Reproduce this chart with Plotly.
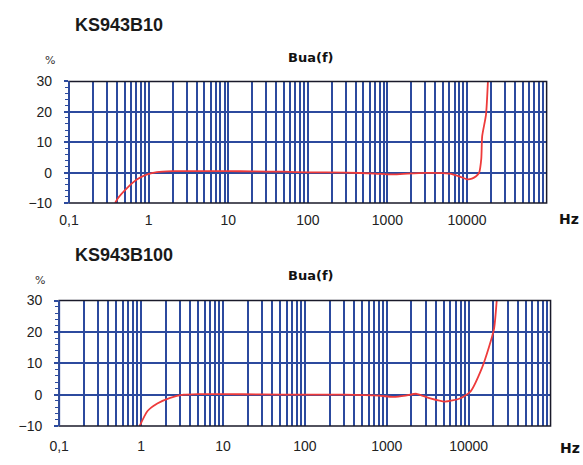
import plotly.graph_objects as go

# ---- data ----
top_freq = [0.38, 0.41, 0.54, 0.72, 0.96, 1.27, 2, 3, 5, 10, 20, 50, 100, 300, 700, 1100, 1600, 3000, 6000, 8000, 10000, 11500, 13000, 14200, 15100, 15500, 17300, 18300]
top_val = [-10, -8.5, -5, -2.2, -0.6, 0.2, 0.5, 0.5, 0.5, 0.5, 0.4, 0.3, 0.1, 0.0, -0.3, -0.6, -0.4, -0.1, -0.3, -1.2, -2.2, -2.0, -1.2, 0.0, 4.5, 12, 19, 30]

bot_freq = [0.96, 1.2, 1.58, 2.27, 3.3, 5, 10, 30, 100, 300, 800, 1200, 1700, 2300, 3400, 5100, 7800, 10500, 14500, 17600, 20400, 22000]
bot_val = [-10, -5.2, -2.8, -1.0, 0.0, 0.2, 0.2, 0.1, 0.0, 0.0, -0.3, -0.7, -0.3, 0.3, -1.2, -2.2, -1.2, 1.0, 8.5, 15, 21, 30]

decades = [0.1, 1, 10, 100, 1000, 10000]
decade_labels = ["0,1", "1", "10", "100", "1000", "10000"]
y_ticks = [-10, 0, 10, 20, 30]

chart_titles = ["KS943B10", "KS943B100"]
sub_title = "Bua(f)"

# ---- build tick values (major + minor log grid) ----
xvals, xtext = [], []
for d, lab in zip(decades, decade_labels):
    for m in range(1, 10):
        xvals.append(m * d)
        xtext.append(lab if m == 1 else "")
xvals.append(100000)
xtext.append("")

GRID = "#2c4a9e"
RED = "#ee3b3b"
W, H = 583, 465

fig = go.Figure()
fig.add_trace(go.Scatter(x=top_freq, y=top_val, mode="lines", line=dict(color=RED, width=1.8, shape="spline", smoothing=0.6),
                         xaxis="x", yaxis="y", showlegend=False, hoverinfo="skip"))
fig.add_trace(go.Scatter(x=bot_freq, y=bot_val, mode="lines", line=dict(color=RED, width=1.8, shape="spline", smoothing=0.6),
                         xaxis="x2", yaxis="y2", showlegend=False, hoverinfo="skip"))

def px(x):
    return x / W

def py(y):
    return 1 - y / H

top_dom_x = [px(60), px(546)]
top_dom_y = [py(202), py(76)]
bot_dom_x = [px(50), px(550)]
bot_dom_y = [py(433), py(303)]

tickfont = dict(family="Liberation Sans, Arial, sans-serif", size=14, color="#222222")

def xaxis(dom, anchor, standoff):
    return dict(domain=dom, anchor=anchor, type="log", range=[-1, 5],
                tickmode="array", tickvals=xvals, ticktext=xtext,
                showgrid=True, gridcolor=GRID, gridwidth=2,
                showline=False, zeroline=False, ticks="", tickfont=tickfont,
                ticklabelstandoff=standoff, fixedrange=True)

def yaxis(dom, anchor):
    return dict(domain=dom, anchor=anchor, range=[-10, 30],
                tickmode="array", tickvals=y_ticks,
                showgrid=True, gridcolor=GRID, gridwidth=2,
                zeroline=False, showline=False,
                ticks="outside", ticklen=4, tickcolor=GRID, tickwidth=1.5,
                minor=dict(dtick=2, ticks="outside", ticklen=3, tickcolor=GRID, tickwidth=1.2, showgrid=False),
                tickfont=tickfont, ticklabelstandoff=9, fixedrange=True)

fig.update_layout(
    width=W, height=H, margin=dict(l=0, r=0, t=0, b=0),
    paper_bgcolor="white", plot_bgcolor="white",
    xaxis=xaxis(top_dom_x, "y", 7), yaxis=yaxis(top_dom_y, "x"),
    xaxis2=xaxis(bot_dom_x, "y2", 10), yaxis2=yaxis(bot_dom_y, "x2"),
)

shapes = []
for xr, yr in (("x domain", "y domain"), ("x2 domain", "y2 domain")):
    shapes.append(dict(type="rect", xref=xr, yref=yr, x0=0, x1=1, y0=0, y1=1,
                       line=dict(color="#1a1a2a", width=1.5), layer="above"))
    shapes.append(dict(type="line", xref=xr, yref=yr, x0=0, x1=0, y0=0, y1=1,
                       line=dict(color=GRID, width=2), layer="above"))
fig.update_layout(shapes=shapes)

title_font = dict(family="Liberation Sans, Arial, sans-serif", size=18, color="#1a1a1a")
small_bold = dict(family="DejaVu Sans, Verdana, sans-serif", size=13, color="#111111")
hz_font = dict(family="DejaVu Sans, Verdana, sans-serif", size=14, color="#111111")
pct_font = dict(family="DejaVu Sans, Verdana, sans-serif", size=11, color="#333333")

ann = []
ann.append(dict(text="<b>" + chart_titles[0] + "</b>", x=px(64), y=py(18), xanchor="left", yanchor="middle", font=title_font))
ann.append(dict(text="<b>" + chart_titles[1] + "</b>", x=px(64), y=py(256), xanchor="left", yanchor="middle", font=title_font))
ann.append(dict(text="<b>" + sub_title + "</b>", x=px(306), y=py(51), xanchor="center", yanchor="middle", font=small_bold))
ann.append(dict(text="<b>" + sub_title + "</b>", x=px(306), y=py(277), xanchor="center", yanchor="middle", font=small_bold))
ann.append(dict(text="%", x=px(41), y=py(54), xanchor="center", yanchor="middle", font=pct_font))
ann.append(dict(text="%", x=px(31), y=py(282), xanchor="center", yanchor="middle", font=pct_font))
ann.append(dict(text="<b>Hz</b>", x=px(569), y=py(219), xanchor="center", yanchor="middle", font=hz_font))
ann.append(dict(text="<b>Hz</b>", x=px(570), y=py(456), xanchor="center", yanchor="middle", font=hz_font))
for a in ann:
    a.update(xref="paper", yref="paper", showarrow=False)
fig.update_layout(annotations=ann)

fig.write_html("out.html", config={"displayModeBar": False},
               post_script="document.body.style.margin='0px';document.body.style.padding='0px';document.body.style.overflow='hidden';")
